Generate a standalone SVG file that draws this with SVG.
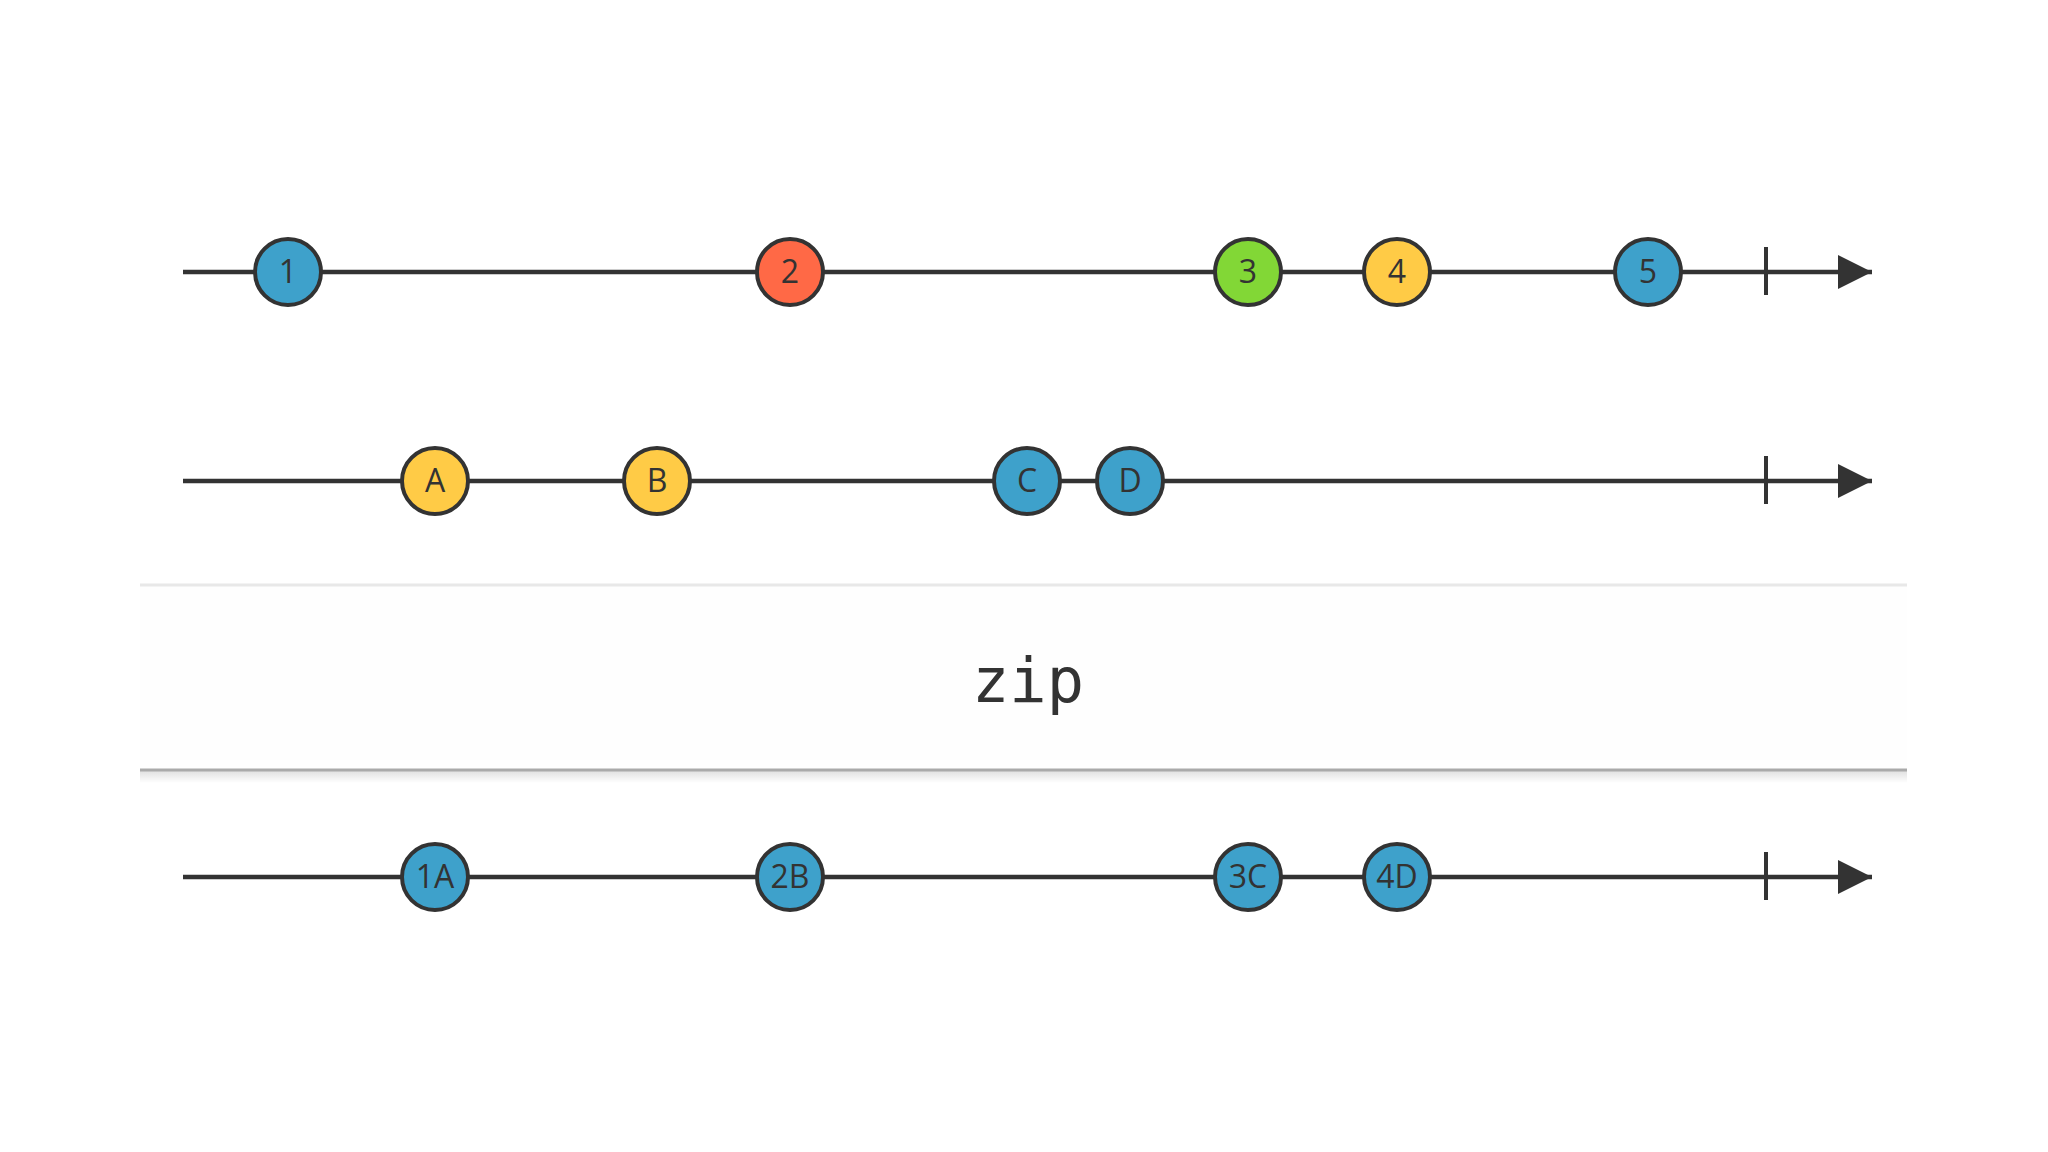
<svg xmlns="http://www.w3.org/2000/svg" width="2048" height="1152" viewBox="0 0 2048 1152">
<defs>
<style>
.tl{stroke:#333;stroke-width:4.5;fill:none}
.tk{stroke:#333;stroke-width:4;fill:none}
.m circle{stroke:#333;stroke-width:4}
.m text{font-family:"Source Sans Pro","Open Sans","Noto Sans","Liberation Sans",sans-serif;font-size:32px;fill:#333;text-anchor:middle}
.blue{fill:#3ea1cb}.red{fill:#ff6946}.green{fill:#82d736}.yellow{fill:#ffcb46}
.op{font-family:"DejaVu Sans Mono","Liberation Mono",monospace;font-size:62px;fill:#333;text-anchor:middle}
</style>
<marker id="arr" viewBox="0 0 34 34" refX="34" refY="17" markerWidth="34" markerHeight="34" markerUnits="userSpaceOnUse" orient="auto">
<path d="M0,0 L34,17 L0,34 Z" fill="#333"/>
</marker>
<linearGradient id="sh" x1="0" y1="0" x2="0" y2="1">
<stop offset="0" stop-color="#000" stop-opacity="0.12"/>
<stop offset="1" stop-color="#000" stop-opacity="0"/>
</linearGradient>
</defs>
<rect width="2048" height="1152" fill="#ffffff"/>

<g id="connectors">
<line class="tl" x1="183" y1="272" x2="1872" y2="272" marker-end="url(#arr)"/>
<line class="tk" x1="1766" y1="247" x2="1766" y2="295"/>
<line class="tl" x1="183" y1="481" x2="1872" y2="481" marker-end="url(#arr)"/>
<line class="tk" x1="1766" y1="456" x2="1766" y2="504"/>
<line class="tl" x1="183" y1="877" x2="1872" y2="877" marker-end="url(#arr)"/>
<line class="tk" x1="1766" y1="852" x2="1766" y2="900"/>
</g>

<g id="operator">
<rect x="140" y="584" width="1767" height="186" fill="#fefefe"/>
<line x1="140" y1="585" x2="1907" y2="585" stroke="#e8e8e8" stroke-width="3"/>
<rect x="140" y="771" width="1767" height="12" fill="url(#sh)"/>
<line x1="140" y1="770" x2="1907" y2="770" stroke="#aaa" stroke-width="3"/>
<text class="op" x="1028" y="702">zip</text>
</g>

<g id="n1" class="m"><circle class="blue" cx="288" cy="272" r="33"/><text x="288" y="283">1</text></g>
<g id="n2" class="m"><circle class="red" cx="790" cy="272" r="33"/><text x="790" y="283">2</text></g>
<g id="n3" class="m"><circle class="green" cx="1248" cy="272" r="33"/><text x="1248" y="283">3</text></g>
<g id="n4" class="m"><circle class="yellow" cx="1397" cy="272" r="33"/><text x="1397" y="283">4</text></g>
<g id="n5" class="m"><circle class="blue" cx="1648" cy="272" r="33"/><text x="1648" y="283">5</text></g>

<g id="nA" class="m"><circle class="yellow" cx="435" cy="481" r="33"/><text x="435" y="492">A</text></g>
<g id="nB" class="m"><circle class="yellow" cx="657" cy="481" r="33"/><text x="657" y="492">B</text></g>
<g id="nC" class="m"><circle class="blue" cx="1027" cy="481" r="33"/><text x="1027" y="492">C</text></g>
<g id="nD" class="m"><circle class="blue" cx="1130" cy="481" r="33"/><text x="1130" y="492">D</text></g>

<g id="n1A" class="m"><circle class="blue" cx="435" cy="877" r="33"/><text x="435" y="888">1A</text></g>
<g id="n2B" class="m"><circle class="blue" cx="790" cy="877" r="33"/><text x="790" y="888">2B</text></g>
<g id="n3C" class="m"><circle class="blue" cx="1248" cy="877" r="33"/><text x="1248" y="888">3C</text></g>
<g id="n4D" class="m"><circle class="blue" cx="1397" cy="877" r="33"/><text x="1397" y="888">4D</text></g>
</svg>
